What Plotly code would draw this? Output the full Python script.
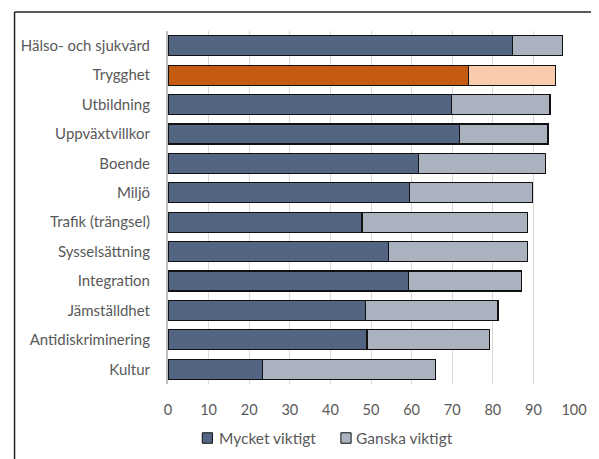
import plotly.graph_objects as go

categories = ["Hälso- och sjukvård", "Trygghet", "Utbildning", "Uppväxtvillkor", "Boende",
              "Miljö", "Trafik (trängsel)", "Sysselsättning", "Integration",
              "Jämställdhet", "Antidiskriminering", "Kultur"]
mycket = [84.9, 74.0, 69.9, 71.8, 61.6, 59.4, 47.8, 54.4, 59.2, 48.7, 49.0, 23.2]
ganska = [12.2, 21.4, 24.2, 21.8, 31.3, 30.3, 40.7, 34.1, 27.8, 32.6, 30.2, 42.6]
x_ticks = [0, 10, 20, 30, 40, 50, 60, 70, 80, 90, 100]
series_names = ["Mycket viktigt", "Ganska viktigt"]

highlight = "Trygghet"
dark, light = "#536582", "#aab2c0"
dark_hl, light_hl = "#c55a11", "#f8cbad"

c_dark = [dark_hl if c == highlight else dark for c in categories]
c_light = [light_hl if c == highlight else light for c in categories]

FAM = "Lato, Open Sans, sans-serif"
GREY = "#595959"

fig = go.Figure()
fig.add_trace(go.Bar(y=categories, x=mycket, orientation="h", name=series_names[0],
                     marker=dict(color=c_dark, line=dict(color="#111111", width=1.2))))
fig.add_trace(go.Bar(y=categories, x=ganska, orientation="h", name=series_names[1],
                     marker=dict(color=c_light, line=dict(color="#111111", width=1.2))))

# page body adds an 8px offset; figure is sized so the plot area lands as in the reference
W, H = 591, 451
L, R, T, B = 160, 13, 23, 75
pw, ph = W - L - R, H - T - B


def px(x):
    return (x - L) / pw


def py(y):
    return 1 - (y - T) / ph


bx = px(2)
by = py(4)

# custom legend (figure pixel positions)
leg_sq_x = [195.3, 338.0]
leg_txt_x = [210.0, 352.0]
leg_y = 430.0
sq = 10.5

shapes = [
    dict(type="line", xref="paper", yref="paper", x0=bx, x1=1.2, y0=by, y1=by,
         line=dict(color="#222222", width=1.5)),
    dict(type="line", xref="paper", yref="paper", x0=bx, x1=bx, y0=by, y1=-0.4,
         line=dict(color="#222222", width=1.5)),
]
annotations = []
for name, col, sx, tx in zip(series_names, [dark, light], leg_sq_x, leg_txt_x):
    shapes.append(dict(type="rect", xref="paper", yref="paper",
                       x0=px(sx), x1=px(sx + sq), y0=py(leg_y - sq / 2), y1=py(leg_y + sq / 2),
                       fillcolor=col, line=dict(color="#111111", width=1)))
    annotations.append(dict(xref="paper", yref="paper", x=px(tx), y=py(leg_y),
                            xanchor="left", yanchor="middle", showarrow=False, text=name,
                            font=dict(family=FAM, size=15.5, color=GREY)))

fig.update_layout(
    width=W, height=H, barmode="stack", bargap=0.32,
    margin=dict(l=L, r=R, t=T, b=B),
    paper_bgcolor="white", plot_bgcolor="white",
    font=dict(family=FAM, size=15, color=GREY),
    showlegend=False,
    xaxis=dict(range=[0, 100], tickvals=x_ticks, showgrid=True, gridcolor="#d9d9d9",
               gridwidth=1, zeroline=False, showline=False, ticks="", ticklabelstandoff=15,
               tickfont=dict(family=FAM, size=14.5, color=GREY), fixedrange=True),
    yaxis=dict(autorange="reversed", categoryorder="array", categoryarray=categories,
               showline=True, linecolor="#bfbfbf", linewidth=2, ticks="",
               tickfont=dict(family=FAM, size=15, color=GREY),
               ticklabelstandoff=13, showgrid=False, zeroline=False),
    shapes=shapes,
    annotations=annotations,
)

fig.write_html("out.html")
